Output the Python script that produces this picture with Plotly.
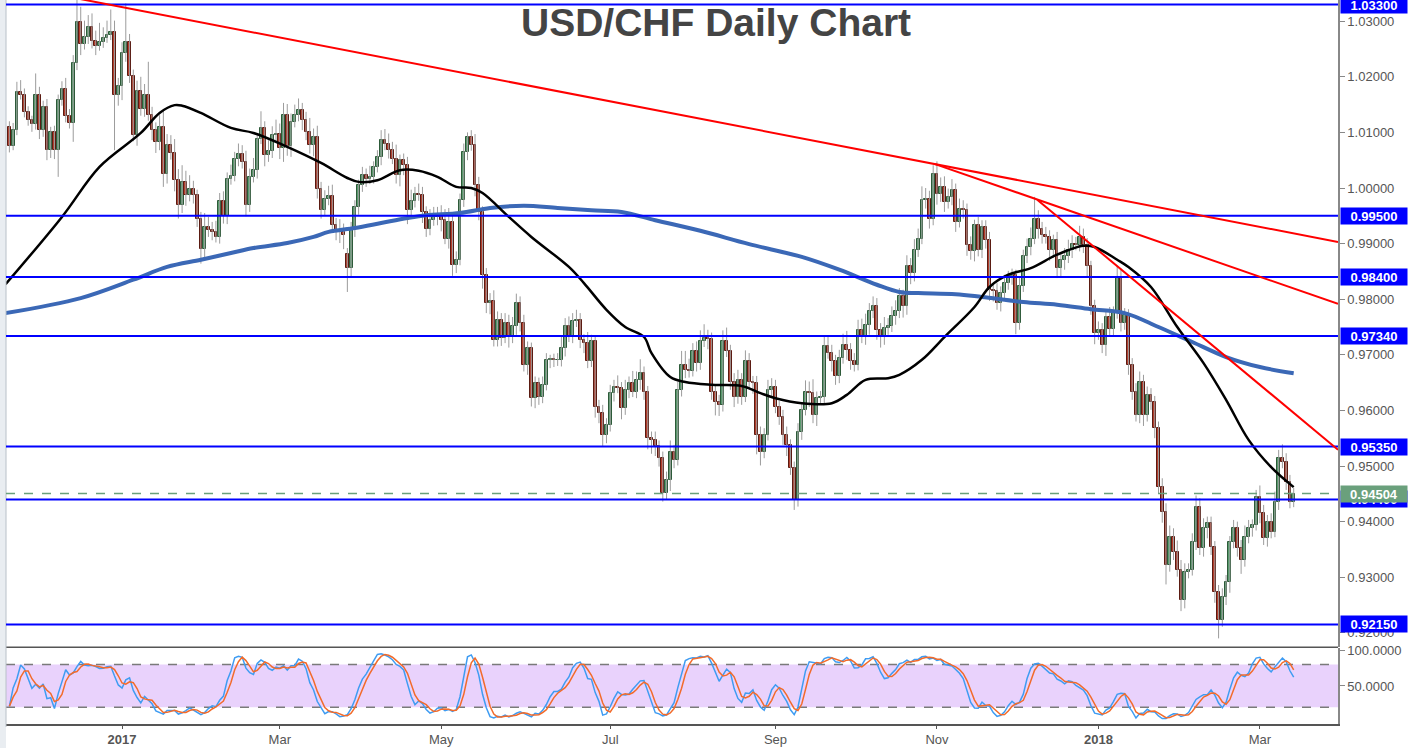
import numpy as np
import pandas as pd
import plotly.graph_objects as go

# ---------------- data ----------------
dates = pd.bdate_range("2016-11-21", periods=343)

opens = [
    1.0110, 1.0076, 1.0105, 1.0173, 1.0167, 1.0137, 1.0122, 1.0115, 1.0168, 1.0104,
    1.0145, 1.0068, 1.0100, 1.0068, 1.0158, 1.0178, 1.0130, 1.0117, 1.0224, 1.0298,
    1.0259, 1.0271, 1.0289, 1.0265, 1.0255, 1.0262, 1.0269, 1.0276, 1.0281, 1.0168,
    1.0183, 1.0242, 1.0262, 1.0201, 1.0096, 1.0175, 1.0142, 1.0167, 1.0131, 1.0104,
    1.0083, 1.0109, 1.0026, 1.0077, 1.0063, 1.0014, 0.9970, 1.0011, 0.9988, 0.9998,
    0.9987, 0.9945, 0.9890, 0.9930, 0.9924, 0.9921, 0.9912, 0.9976, 0.9950, 1.0016,
    1.0022, 1.0053, 1.0062, 1.0047, 0.9969, 1.0020, 1.0032, 1.0089, 1.0108, 1.0059,
    1.0066, 1.0096, 1.0098, 1.0072, 1.0131, 1.0076, 1.0119, 1.0132, 1.0141, 1.0122,
    1.0101, 1.0077, 1.0092, 0.9999, 0.9960, 0.9981, 0.9986, 0.9934, 0.9924, 0.9921,
    0.9882, 0.9856, 0.9924, 0.9966, 1.0005, 1.0023, 1.0017, 1.0020, 1.0038, 1.0056,
    1.0086, 1.0080, 1.0068, 1.0053, 1.0023, 1.0050, 1.0041, 0.9960, 0.9977, 0.9990,
    0.9987, 0.9957, 0.9927, 0.9942, 0.9948, 0.9954, 0.9942, 0.9909, 0.9939, 0.9862,
    0.9871, 0.9978, 1.0065, 1.0092, 1.0077, 1.0005, 0.9957, 0.9844, 0.9793, 0.9796,
    0.9727, 0.9763, 0.9731, 0.9757, 0.9733, 0.9751, 0.9793, 0.9757, 0.9682, 0.9712,
    0.9622, 0.9649, 0.9625, 0.9646, 0.9691, 0.9692, 0.9690, 0.9691, 0.9712, 0.9751,
    0.9733, 0.9760, 0.9763, 0.9727, 0.9721, 0.9688, 0.9724, 0.9607, 0.9595, 0.9556,
    0.9574, 0.9631, 0.9643, 0.9641, 0.9604, 0.9637, 0.9649, 0.9634, 0.9655, 0.9667,
    0.9634, 0.9550, 0.9547, 0.9536, 0.9514, 0.9451, 0.9475, 0.9526, 0.9511, 0.9637,
    0.9682, 0.9673, 0.9671, 0.9706, 0.9685, 0.9724, 0.9730, 0.9728, 0.9634, 0.9616,
    0.9610, 0.9724, 0.9706, 0.9652, 0.9624, 0.9655, 0.9625, 0.9688, 0.9652, 0.9650,
    0.9556, 0.9526, 0.9556, 0.9637, 0.9643, 0.9607, 0.9589, 0.9556, 0.9538, 0.9496,
    0.9439, 0.9562, 0.9601, 0.9634, 0.9631, 0.9592, 0.9622, 0.9625, 0.9715, 0.9703,
    0.9688, 0.9661, 0.9694, 0.9718, 0.9709, 0.9688, 0.9682, 0.9745, 0.9733, 0.9754,
    0.9778, 0.9787, 0.9745, 0.9733, 0.9748, 0.9751, 0.9769, 0.9778, 0.9805, 0.9787,
    0.9859, 0.9847, 0.9888, 0.9909, 0.9978, 0.9980, 0.9945, 1.0026, 0.9990, 1.0001,
    0.9975, 0.9984, 0.9996, 0.9939, 0.9963, 0.9960, 0.9898, 0.9886, 0.9933, 0.9889,
    0.9930, 0.9906, 0.9817, 0.9814, 0.9793, 0.9811, 0.9829, 0.9841, 0.9843, 0.9757,
    0.9823, 0.9877, 0.9894, 0.9909, 0.9945, 0.9927, 0.9915, 0.9912, 0.9889, 0.9906,
    0.9856, 0.9871, 0.9877, 0.9889, 0.9900, 0.9898, 0.9912, 0.9898, 0.9859, 0.9787,
    0.9739, 0.9745, 0.9718, 0.9768, 0.9747, 0.9775, 0.9840, 0.9757, 0.9772, 0.9682,
    0.9634, 0.9592, 0.9652, 0.9592, 0.9628, 0.9616, 0.9568, 0.9463, 0.9418, 0.9322,
    0.9373, 0.9346, 0.9313, 0.9259, 0.9310, 0.9313, 0.9364, 0.9427, 0.9352, 0.9388,
    0.9397, 0.9355, 0.9274, 0.9223, 0.9265, 0.9292, 0.9364, 0.9388, 0.9352, 0.9331,
    0.9373, 0.9388, 0.9394, 0.9445, 0.9415, 0.9370, 0.9400, 0.9382, 0.9436, 0.9514,
    0.9508, 0.9472, 0.9436,
]

closes = [
    1.0076, 1.0105, 1.0173, 1.0167, 1.0137, 1.0122, 1.0115, 1.0168, 1.0104, 1.0145,
    1.0068, 1.0100, 1.0068, 1.0158, 1.0178, 1.0130, 1.0117, 1.0224, 1.0298, 1.0259,
    1.0271, 1.0289, 1.0265, 1.0255, 1.0262, 1.0269, 1.0276, 1.0281, 1.0168, 1.0183,
    1.0242, 1.0262, 1.0201, 1.0096, 1.0175, 1.0142, 1.0167, 1.0131, 1.0104, 1.0083,
    1.0109, 1.0026, 1.0077, 1.0063, 1.0014, 0.9970, 1.0011, 0.9988, 0.9998, 0.9987,
    0.9945, 0.9890, 0.9930, 0.9924, 0.9921, 0.9912, 0.9976, 0.9950, 1.0016, 1.0022,
    1.0053, 1.0062, 1.0047, 0.9969, 1.0020, 1.0032, 1.0089, 1.0108, 1.0059, 1.0066,
    1.0096, 1.0098, 1.0072, 1.0131, 1.0076, 1.0119, 1.0132, 1.0141, 1.0122, 1.0101,
    1.0077, 1.0092, 0.9999, 0.9960, 0.9981, 0.9986, 0.9934, 0.9924, 0.9921, 0.9915,
    0.9856, 0.9924, 0.9966, 1.0005, 1.0023, 1.0017, 1.0020, 1.0038, 1.0056, 1.0086,
    1.0080, 1.0068, 1.0053, 1.0023, 1.0050, 1.0041, 0.9960, 0.9977, 0.9990, 0.9987,
    0.9957, 0.9927, 0.9942, 0.9948, 0.9954, 0.9942, 0.9909, 0.9939, 0.9862, 0.9871,
    0.9978, 1.0065, 1.0092, 1.0077, 1.0005, 0.9957, 0.9844, 0.9793, 0.9796, 0.9727,
    0.9763, 0.9731, 0.9757, 0.9733, 0.9751, 0.9793, 0.9757, 0.9682, 0.9712, 0.9622,
    0.9649, 0.9625, 0.9646, 0.9691, 0.9692, 0.9690, 0.9691, 0.9712, 0.9751, 0.9733,
    0.9760, 0.9763, 0.9727, 0.9721, 0.9688, 0.9724, 0.9607, 0.9595, 0.9556, 0.9574,
    0.9631, 0.9643, 0.9641, 0.9604, 0.9637, 0.9649, 0.9634, 0.9655, 0.9667, 0.9634,
    0.9550, 0.9547, 0.9536, 0.9514, 0.9451, 0.9475, 0.9526, 0.9511, 0.9637, 0.9682,
    0.9673, 0.9671, 0.9706, 0.9685, 0.9724, 0.9730, 0.9728, 0.9634, 0.9616, 0.9610,
    0.9724, 0.9706, 0.9652, 0.9624, 0.9655, 0.9625, 0.9688, 0.9652, 0.9650, 0.9556,
    0.9526, 0.9556, 0.9637, 0.9643, 0.9607, 0.9589, 0.9556, 0.9538, 0.9496, 0.9439,
    0.9562, 0.9601, 0.9634, 0.9631, 0.9592, 0.9622, 0.9625, 0.9715, 0.9703, 0.9688,
    0.9661, 0.9694, 0.9718, 0.9709, 0.9688, 0.9682, 0.9745, 0.9733, 0.9754, 0.9778,
    0.9787, 0.9745, 0.9733, 0.9748, 0.9751, 0.9769, 0.9778, 0.9805, 0.9787, 0.9859,
    0.9847, 0.9888, 0.9909, 0.9978, 0.9980, 0.9945, 1.0026, 0.9990, 1.0001, 0.9975,
    0.9984, 0.9996, 0.9939, 0.9963, 0.9960, 0.9898, 0.9886, 0.9933, 0.9889, 0.9930,
    0.9906, 0.9817, 0.9814, 0.9793, 0.9811, 0.9829, 0.9841, 0.9843, 0.9757, 0.9823,
    0.9877, 0.9894, 0.9909, 0.9945, 0.9927, 0.9915, 0.9912, 0.9889, 0.9906, 0.9856,
    0.9871, 0.9877, 0.9889, 0.9900, 0.9898, 0.9912, 0.9898, 0.9859, 0.9787, 0.9739,
    0.9745, 0.9718, 0.9768, 0.9747, 0.9775, 0.9840, 0.9757, 0.9772, 0.9682, 0.9634,
    0.9592, 0.9652, 0.9592, 0.9628, 0.9616, 0.9568, 0.9463, 0.9418, 0.9322, 0.9373,
    0.9346, 0.9313, 0.9259, 0.9310, 0.9313, 0.9364, 0.9427, 0.9352, 0.9388, 0.9397,
    0.9355, 0.9274, 0.9223, 0.9265, 0.9292, 0.9364, 0.9388, 0.9352, 0.9331, 0.9373,
    0.9388, 0.9394, 0.9445, 0.9415, 0.9370, 0.9400, 0.9382, 0.9436, 0.9514, 0.9508,
    0.9472, 0.9436, 0.94504,
]

# wick lengths above / below the body, in pips (0.0001)
upper_wick_pips = [
    10, 12, 18, 21, 12, 10, 8, 38, 14, 12,
    15, 10, 12, 10, 14, 20, 12, 15, 45, 28,
    30, 22, 25, 18, 35, 20, 25, 40, 20, 15,
    20, 70, 15, 12, 18, 25, 20, 60, 15, 14,
    22, 30, 20, 18, 25, 20, 30, 20, 25, 15,
    10, 12, 25, 18, 15, 20, 15, 18, 12, 20,
    12, 18, 15, 20, 15, 22, 10, 30, 12, 20,
    15, 25, 18, 22, 20, 15, 18, 20, 12, 15,
    25, 15, 20, 12, 15, 18, 20, 12, 20, 15,
    10, 15, 12, 10, 15, 12, 20, 10, 12, 18,
    20, 18, 15, 25, 10, 12, 15, 20, 12, 18,
    15, 10, 20, 18, 12, 15, 20, 25, 12, 15,
    12, 15, 8, 12, 20, 15, 10, 12, 15, 20,
    15, 12, 18, 15, 17, 17, 12, 15, 12, 10,
    12, 10, 15, 12, 8, 10, 12, 20, 15, 18,
    15, 18, 12, 10, 20, 12, 10, 12, 15, 12,
    15, 12, 20, 10, 18, 12, 22, 15, 25, 12,
    10, 12, 15, 10, 12, 15, 20, 12, 15, 25,
    25, 20, 15, 18, 20, 25, 15, 12, 10, 12,
    20, 25, 12, 15, 18, 12, 20, 15, 10, 12,
    15, 12, 18, 15, 12, 10, 12, 15, 10, 12,
    15, 12, 20, 18, 25, 12, 10, 18, 20, 15,
    12, 15, 20, 25, 12, 15, 18, 20, 20, 15,
    18, 15, 12, 20, 15, 18, 20, 15, 12, 20,
    15, 20, 18, 25, 20, 15, 15, 22, 18, 20,
    15, 20, 12, 18, 15, 12, 15, 10, 15, 12,
    12, 15, 10, 15, 12, 15, 10, 12, 10, 15,
    12, 15, 20, 39, 15, 12, 15, 12, 10, 15,
    12, 15, 18, 15, 12, 20, 15, 12, 10, 12,
    15, 12, 10, 18, 12, 20, 15, 12, 10, 12,
    15, 18, 12, 15, 12, 10, 12, 15, 15, 20,
    15, 20, 18, 15, 12, 15, 20, 15, 18, 12,
    12, 10, 12, 15, 12, 10, 15, 12, 15, 20,
    15, 10, 12, 20, 15, 12, 15, 18, 15, 25,
    15, 12, 10,
]
lower_wick_pips = [
    12, 8, 10, 8, 10, 10, 14, 10, 16, 12,
    18, 14, 16, 48, 10, 12, 10, 34, 12, 20,
    10, 12, 14, 16, 8, 10, 8, 10, 100, 20,
    25, 15, 12, 12, 20, 12, 14, 10, 18, 20,
    15, 24, 18, 12, 20, 25, 15, 20, 12, 15,
    15, 26, 20, 12, 15, 10, 12, 14, 15, 10,
    10, 14, 12, 20, 12, 10, 15, 10, 20, 12,
    12, 15, 20, 25, 18, 20, 10, 12, 18, 15,
    15, 20, 18, 15, 10, 12, 15, 18, 20, 25,
    43, 15, 12, 14, 12, 15, 10, 12, 10, 15,
    12, 15, 10, 15, 20, 18, 25, 15, 12, 10,
    20, 15, 12, 10, 15, 20, 10, 18, 20, 15,
    10, 12, 15, 10, 20, 15, 25, 18, 20, 12,
    12, 15, 10, 20, 12, 15, 15, 12, 18, 15,
    18, 15, 12, 10, 15, 12, 10, 12, 15, 10,
    12, 10, 15, 18, 12, 10, 20, 18, 20, 15,
    12, 15, 10, 20, 12, 15, 10, 12, 18, 15,
    20, 25, 18, 15, 15, 12, 20, 15, 10, 12,
    15, 12, 10, 15, 12, 10, 18, 15, 25, 20,
    12, 10, 15, 18, 12, 15, 10, 12, 20, 35,
    25, 12, 10, 15, 12, 15, 18, 20, 12, 18,
    12, 15, 10, 25, 15, 20, 12, 15, 10, 18,
    15, 12, 10, 18, 15, 12, 10, 12, 15, 18,
    12, 18, 20, 15, 12, 10, 15, 12, 20, 15,
    20, 15, 12, 10, 15, 18, 12, 20, 15, 18,
    12, 15, 18, 10, 15, 20, 15, 18, 12, 15,
    15, 20, 18, 12, 15, 10, 12, 15, 20, 12,
    10, 12, 15, 10, 18, 15, 12, 20, 15, 18,
    15, 18, 12, 15, 10, 12, 15, 18, 15, 20,
    12, 15, 20, 15, 12, 10, 15, 12, 18, 15,
    12, 15, 20, 12, 15, 18, 12, 20, 35, 12,
    15, 12, 20, 15, 12, 10, 15, 12, 15, 18,
    15, 20, 33, 12, 15, 20, 12, 15, 25, 12,
    12, 15, 10, 18, 12, 15, 12, 10, 15, 12,
    15, 12, 10,
]

# moving averages (bar number -> value)
ma_black_bar = [-1, 14, 24, 35, 40, 44, 46, 51, 59, 65, 74, 83, 90, 93, 98, 104, 109, 114,
                119, 123, 126, 133, 139, 149, 153, 159, 164, 169, 171, 176, 180, 187, 195,
                200, 204, 211, 219, 223, 228, 234, 237, 243, 249, 257, 261, 266, 272, 279,
                286, 289, 295, 298, 304, 311, 318, 324, 330, 336, 342]
ma_black_val = [0.9827, 0.9948, 1.0038, 1.0099, 1.0135, 1.0149, 1.0148, 1.0135, 1.0108,
                1.0099, 1.0074, 1.0045, 1.0018, 1.0011, 1.0014, 1.0032, 1.0031, 1.0020,
                1.0002, 1.0000, 0.9991, 0.9948, 0.9912, 0.9858, 0.9829, 0.9781, 0.9750,
                0.9732, 0.9703, 0.9660, 0.9651, 0.9646, 0.9644, 0.9631, 0.9622, 0.9613,
                0.9613, 0.9628, 0.9655, 0.9658, 0.9664, 0.9691, 0.9732, 0.9786, 0.9822,
                0.9844, 0.9856, 0.9880, 0.9896, 0.9894, 0.9871, 0.9858, 0.9822, 0.9750,
                0.9685, 0.9619, 0.9547, 0.9498, 0.9462]
ma_blue_bar = [-1, 19, 33, 42, 51, 59, 65, 74, 81, 85, 92, 99, 106, 111, 120, 128, 137, 146,
               155, 163, 172, 184, 197, 211, 221, 231, 237, 242, 252, 259, 270, 279, 288,
               297, 306, 315, 324, 333, 342]
ma_blue_val = [0.9775, 0.9802, 0.9835, 0.9858, 0.9871, 0.9883, 0.9892, 0.9901, 0.9912,
               0.9921, 0.9928, 0.9937, 0.9946, 0.9951, 0.9955, 0.9964, 0.9968, 0.9964,
               0.9960, 0.9957, 0.9942, 0.9923, 0.9899, 0.9876, 0.9853, 0.9826, 0.9813,
               0.9811, 0.9809, 0.9804, 0.9795, 0.9790, 0.9782, 0.9775, 0.9750, 0.9723,
               0.9696, 0.9678, 0.9667]

levels = [1.03300, 0.99500, 0.98400, 0.97340, 0.95350, 0.94400, 0.92150]
last_price = 0.94504

# trend lines: (bar, price) anchor, (bar, price) second point
trend_lines = [
    ((18.0, 1.0341), (246.5, 1.0043)),
    ((246.5, 1.0043), (298.4, 0.99214)),
    ((273.7, 0.9979), (353.9, 0.95288)),
]

tick_dates = ["2017-01-02", "2017-03-01", "2017-05-01", "2017-07-03",
              "2017-09-01", "2017-11-01", "2018-01-01", "2018-03-01"]
tick_text = ["<b>2017</b>", "Mar", "May", "Jul", "Sep", "Nov", "<b>2018</b>", "Mar"]
price_ticks = [0.92, 0.93, 0.94, 0.95, 0.96, 0.97, 0.98, 0.99, 1.00, 1.01, 1.02, 1.03]

# ---------------- build ----------------
o = np.array(opens)
c = np.array(closes)
bar = np.arange(len(c))
body_hi = np.maximum(o, c)
body_lo = np.minimum(o, c)
high = body_hi + np.array(upper_wick_pips) * 1e-4
low = body_lo - np.array(lower_wick_pips) * 1e-4
up = c >= o

# stochastic (14, 3, 3)
hh = pd.Series(high).rolling(14, min_periods=1).max()
ll = pd.Series(low).rolling(14, min_periods=1).min()
raw_k = 100 * (pd.Series(c) - ll) / (hh - ll)
stoch_k = raw_k.rolling(3, min_periods=1).mean()
stoch_d = stoch_k.rolling(3, min_periods=1).mean()

tick_pos = [int(dates.get_loc(pd.Timestamp(d))) for d in tick_dates]

X_LEFT, X_RIGHT = -0.9, 353.8
Y_LO, Y_HI = 0.91745, 1.03381
MAIN_DOM = [0.10635, 1.0]
STO_DOM = [0.0, 0.1050]
FONT = "Liberation Sans, Arial, sans-serif"

fig = go.Figure()

# wicks
wx, wy = [], []
for b, h, l in zip(bar, high, low):
    wx += [b, b, None]
    wy += [l, h, None]
fig.add_trace(go.Scatter(x=wx, y=wy, mode="lines", line=dict(color="#9c9c9c", width=1),
                         hoverinfo="skip", xaxis="x", yaxis="y"))

# bodies (bars spanning open..close)
fig.add_trace(go.Bar(
    x=bar, y=np.maximum(body_hi - body_lo, 0.00004), base=body_lo, width=0.74,
    marker=dict(color=np.where(up, "#5b9b6f", "#b53e2d"),
                line=dict(color=np.where(up, "#2d5a39", "#5a1b12"), width=1)),
    xaxis="x", yaxis="y", hoverinfo="skip"))

# moving averages
fig.add_trace(go.Scatter(x=ma_blue_bar, y=ma_blue_val, mode="lines", line_shape="spline",
                         line=dict(color="#3b68b6", width=4), xaxis="x", yaxis="y",
                         hoverinfo="skip"))
fig.add_trace(go.Scatter(x=ma_black_bar, y=ma_black_val, mode="lines", line_shape="spline",
                         line=dict(color="#000000", width=2.5), xaxis="x", yaxis="y",
                         hoverinfo="skip"))

# stochastic
fig.add_trace(go.Scatter(x=bar, y=stoch_k, mode="lines", line=dict(color="#3f9cf2", width=1.5),
                         xaxis="x", yaxis="y2", hoverinfo="skip"))
fig.add_trace(go.Scatter(x=bar, y=stoch_d, mode="lines", line=dict(color="#f26b2b", width=1.5),
                         xaxis="x", yaxis="y2", hoverinfo="skip"))

shapes = []
annotations = []

# stochastic band
shapes.append(dict(type="rect", xref="x domain", yref="y2", x0=0, x1=1, y0=20, y1=80,
                   fillcolor="#e9d2fc", line=dict(width=0), layer="below"))
for lv in (20, 80):
    shapes.append(dict(type="line", xref="x domain", yref="y2", x0=0, x1=1, y0=lv, y1=lv,
                       line=dict(color="#7a7a7a", width=1.5, dash="dash"), layer="below"))
# panel separator
shapes.append(dict(type="line", xref="x domain", yref="paper", x0=0, x1=1,
                   y0=STO_DOM[1] + 0.001, y1=STO_DOM[1] + 0.001,
                   line=dict(color="#555555", width=1.5)))
# left grey strip
shapes.append(dict(type="rect", xref="paper", yref="paper", x0=-0.0046, x1=0, y0=-0.04, y1=1,
                   fillcolor="#e9edf1", line=dict(width=0), layer="below"))
shapes.append(dict(type="line", xref="paper", yref="paper", x0=0, x1=0, y0=-0.004, y1=1,
                   line=dict(color="#b8c0c8", width=1)))

# horizontal levels
for lv in levels:
    shapes.append(dict(type="line", xref="x domain", yref="y", x0=0, x1=1, y0=lv, y1=lv,
                       line=dict(color="#0000ff", width=2), layer="above"))
    annotations.append(dict(x=1, xref="paper", y=lv, yref="y", xanchor="left", xshift=2,
                            text="<b>%.5f</b>" % lv, showarrow=False,
                            font=dict(color="white", size=13, family=FONT),
                            bgcolor="#0000ff", borderpad=1, width=64, height=14))
# last price
shapes.append(dict(type="line", xref="x domain", yref="y", x0=0, x1=1, y0=last_price,
                   y1=last_price, line=dict(color="#6aa07c", width=1.5, dash="dash"),
                   layer="above"))
annotations.append(dict(x=1, xref="paper", y=last_price, yref="y", xanchor="left", xshift=2,
                        text="<b>%.5f</b>" % last_price, showarrow=False,
                        font=dict(color="white", size=13, family=FONT),
                        bgcolor="#6aa07c", borderpad=1, width=64, height=14))

# trend lines extended to right edge
for (x0, y0), (x1, y1) in trend_lines:
    slope = (y1 - y0) / (x1 - x0)
    shapes.append(dict(type="line", xref="x", yref="y", x0=x0, y0=y0,
                       x1=X_RIGHT, y1=y0 + slope * (X_RIGHT - x0),
                       line=dict(color="#ff0000", width=2), layer="above"))

# title
annotations.append(dict(x=0.533, xref="paper", y=0.9696, yref="paper", xanchor="center",
                        yanchor="middle", text="<b>USD/CHF Daily Chart</b>", showarrow=False,
                        font=dict(size=39, color="#444444", family=FONT)))

fig.update_layout(
    width=1410, height=748, autosize=False,
    margin=dict(l=6, r=72, t=0, b=24, autoexpand=False),
    paper_bgcolor="white", plot_bgcolor="white",
    showlegend=False, hovermode=False, bargap=0,
    font=dict(family=FONT, color="#555555"),
    shapes=shapes, annotations=annotations,
    xaxis=dict(range=[X_LEFT, X_RIGHT], anchor="y2", tickvals=tick_pos, ticktext=tick_text,
               tickfont=dict(size=13, color="#555555"), ticks="outside", ticklen=3,
               tickcolor="#555555", showline=True, linecolor="#555555", linewidth=1.5,
               showgrid=False, zeroline=False, rangeslider=dict(visible=False),
               automargin=False),
    yaxis=dict(domain=MAIN_DOM, range=[Y_LO, Y_HI], side="right", anchor="x",
               tickvals=price_ticks, tickformat=".5f", ticks="outside", ticklen=5,
               tickcolor="#888888", tickfont=dict(size=13, color="#555555"),
               showline=True, linecolor="#888888", linewidth=1.5,
               showgrid=False, zeroline=False, automargin=False),
    yaxis2=dict(domain=STO_DOM, range=[-3.3, 103.2], side="right", anchor="x",
                tickvals=[50, 100], tickformat=".4f", ticks="outside", ticklen=5,
                tickcolor="#888888", tickfont=dict(size=13, color="#555555"),
                showline=True, linecolor="#888888", linewidth=1.5,
                showgrid=False, zeroline=False, automargin=False),
)

fig.write_html("out.html", config={"displayModeBar": False},
               post_script="document.body.style.margin='0';document.body.style.overflow='hidden';")
